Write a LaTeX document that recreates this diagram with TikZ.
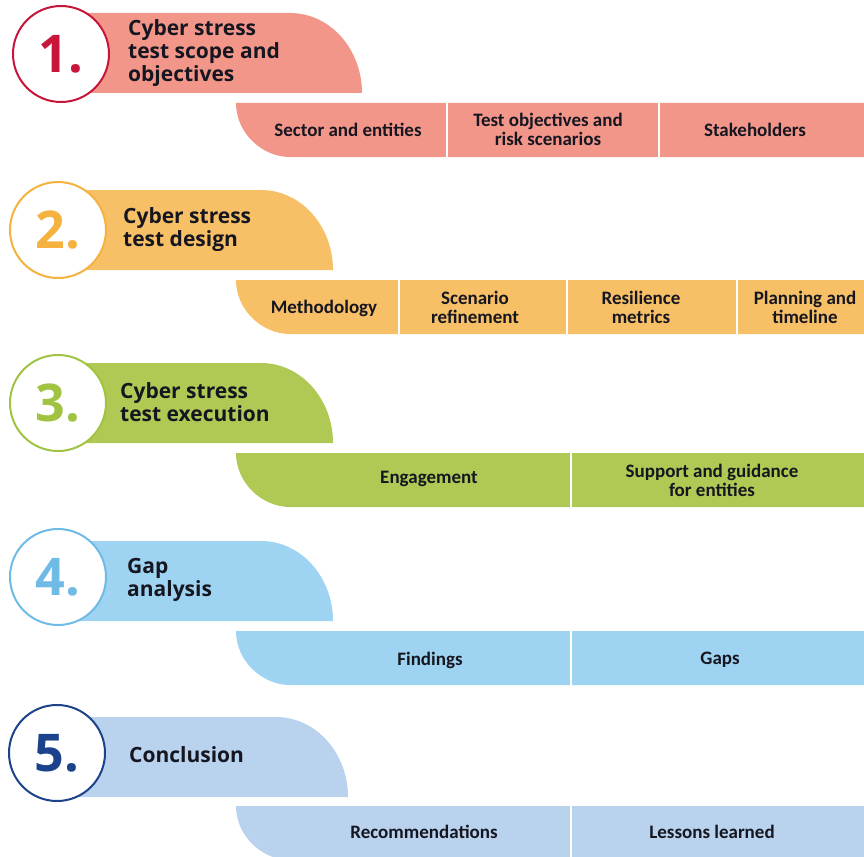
\documentclass[tikz,border=0pt]{standalone}
\usepackage{fontspec}
\setmainfont{Open Sans}
\newfontfamily\cellfont{Carlito}
\usetikzlibrary{positioning}
\definecolor{bandone}{RGB}{243,150,138}
\definecolor{markone}{RGB}{200,22,58}
\definecolor{bandtwo}{RGB}{247,192,102}
\definecolor{marktwo}{RGB}{245,178,62}
\definecolor{bandthree}{RGB}{175,201,84}
\definecolor{markthree}{RGB}{160,196,66}
\definecolor{bandfour}{RGB}{158,212,242}
\definecolor{markfour}{RGB}{112,186,230}
\definecolor{bandfive}{RGB}{185,210,237}
\definecolor{markfive}{RGB}{28,66,140}
\definecolor{inkdark}{RGB}{22,22,32}
\newcommand{\rowleft}{236}
\newcommand{\rowright}{864}
% band behind a step title: colour, left x, top y, right x
\newcommand{\banner}[4]{%
  \fill[#1] (#2,#3) -- ({#4-72},#3) .. controls ({#4-32},#3) and (#4,{#3+36}) .. (#4,{#3+80}) -- (#2,{#3+80}) -- cycle;}
% row of sub-steps: colour, top y
\newcommand{\subrow}[2]{%
  \fill[#1] (\rowleft,#2) -- (\rowright,#2) -- (\rowright,{#2+54}) -- (290,{#2+54}) .. controls (262,{#2+54}) and (\rowleft,{#2+30}) .. (\rowleft,#2) -- cycle;}
\tikzset{
    stagecircle/.style={circle, draw, line width=2pt, fill=white, minimum size=96pt, inner sep=0pt,
        font=\fontsize{52}{52}\selectfont\bfseries},
    stagetitle/.style={anchor=west, align=left, inner sep=0pt, text=inkdark,
        font=\fontsize{21}{23}\selectfont\bfseries},
    cell/.style={align=center, inner sep=0pt, text=inkdark,
        font=\cellfont\fontsize{19}{19}\selectfont\bfseries},
    divider/.style={draw=white, line width=2pt},
}

\begin{document}
\begin{tikzpicture}[x=1pt, y=-1pt]
    \useasboundingbox (0,0) rectangle (864,856);
    % step 1
    \banner{bandone}{61}{13}{362}
    \node[stagecircle, draw=markone, text=markone] (circone) at (61,54) {1.};
    \node[stagetitle] (titleone) at (128,53) {Cyber stress\\test scope and\\objectives};
    \subrow{bandone}{103}
    \draw[divider] (447,103) -- (447,157);
    \draw[divider] (659,103) -- (659,157);
    \node[cell] (sector) at (348,130) {Sector and entities};
    \node[cell] (objectives) at (548,129) {Test objectives and\\risk scenarios};
    \node[cell] (stakeholders) at (755,130) {Stakeholders};
    % step 2
    \banner{bandtwo}{58}{190}{333}
    \node[stagecircle, draw=marktwo, text=marktwo] (circtwo) at (58,230) {2.};
    \node[stagetitle] (titletwo) at (123,230) {Cyber stress\\test design};
    \subrow{bandtwo}{280}
    \draw[divider] (399,280) -- (399,334);
    \draw[divider] (567,280) -- (567,334);
    \draw[divider] (737,280) -- (737,334);
    \node[cell] (method) at (324,308) {Methodology};
    \node[cell] (refine) at (475,307) {Scenario\\refinement};
    \node[cell] (metrics) at (641,307) {Resilience\\metrics};
    \node[cell] (planning) at (805,307) {Planning and\\timeline};
    % step 3
    \banner{bandthree}{58}{363}{333}
    \node[stagecircle, draw=markthree, text=markthree] (circthree) at (58,403) {3.};
    \node[stagetitle] (titlethree) at (120,402) {Cyber stress\\test execution};
    \subrow{bandthree}{453}
    \draw[divider] (571,453) -- (571,507);
    \node[cell] (engage) at (429,479) {Engagement};
    \node[cell] (support) at (712,480) {Support and guidance\\for entities};
    % step 4
    \banner{bandfour}{58}{541}{333}
    \node[stagecircle, draw=markfour, text=markfour] (circfour) at (58,577) {4.};
    \node[stagetitle] (titlefour) at (127,580) {Gap\\analysis};
    \subrow{bandfour}{631}
    \draw[divider] (571,631) -- (571,685);
    \node[cell] (findings) at (430,660) {Findings};
    \node[cell] (gaps) at (720,660) {Gaps};
    % step 5
    \banner{bandfive}{57}{717}{348}
    \node[stagecircle, draw=markfive, text=markfive] (circfive) at (57,753) {5.};
    \node[stagetitle] (titlefive) at (129,755) {Conclusion};
    \subrow{bandfive}{806}
    \draw[divider] (571,806) -- (571,860);
    \node[cell] (recommend) at (424,832) {Recommendations};
    \node[cell] (lessons) at (712,832) {Lessons learned};
\end{tikzpicture}
\end{document}
